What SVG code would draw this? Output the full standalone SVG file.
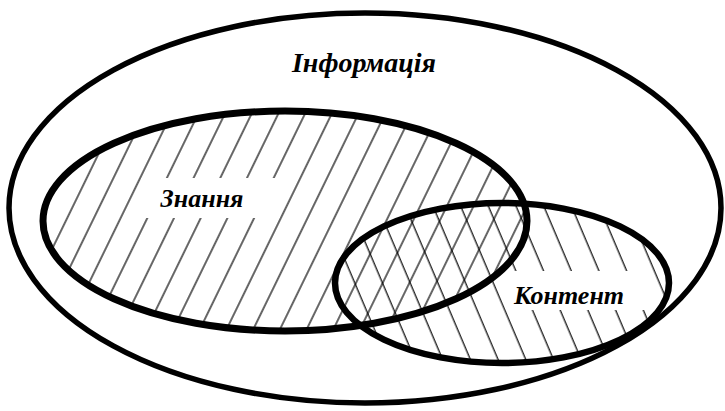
<svg xmlns="http://www.w3.org/2000/svg" width="725" height="411" viewBox="0 0 725 411">
<style>
.ring{fill:none;stroke:#000}
.lbl{font-family:"Liberation Serif","Times New Roman",serif;font-style:italic;font-weight:bold;fill:#000}
</style>
<defs>
<pattern id="hatchK" patternUnits="userSpaceOnUse" width="24" height="40" patternTransform="rotate(26)">
<line x1="12" y1="0" x2="12" y2="40" stroke="#000" stroke-width="1.2"/>
</pattern>
<pattern id="hatchC" patternUnits="userSpaceOnUse" width="25.5" height="40" patternTransform="rotate(-23)">
<line x1="12" y1="0" x2="12" y2="40" stroke="#000" stroke-width="1.2"/>
</pattern>
</defs>
<rect width="725" height="411" fill="#fff"/>
<g id="informatsiia">
<ellipse class="ring" cx="365" cy="208" rx="356" ry="195" stroke-width="5.5"/>
<text class="lbl" x="364" y="72" font-size="28" text-anchor="middle">Інформація</text>
</g>
<g id="znannia">
<ellipse cx="285" cy="221" rx="242" ry="110" fill="url(#hatchK)"/>
</g>
<g id="kontent">
<ellipse cx="502" cy="283" rx="167" ry="80" fill="url(#hatchC)"/>
</g>
<g id="labels">
<rect x="141" y="178" width="139" height="40" fill="#fff"/>
<rect x="507" y="271" width="141" height="39" fill="#fff"/>
</g>
<g id="outlines">
<ellipse class="ring" cx="285" cy="221" rx="242" ry="110" stroke-width="7"/>
<ellipse class="ring" cx="502" cy="283" rx="167" ry="80" stroke-width="6.5"/>
</g>
<text class="lbl" x="202" y="207" font-size="26" text-anchor="middle">Знання</text>
<text class="lbl" x="569" y="304" font-size="26" text-anchor="middle">Контент</text>
</svg>
